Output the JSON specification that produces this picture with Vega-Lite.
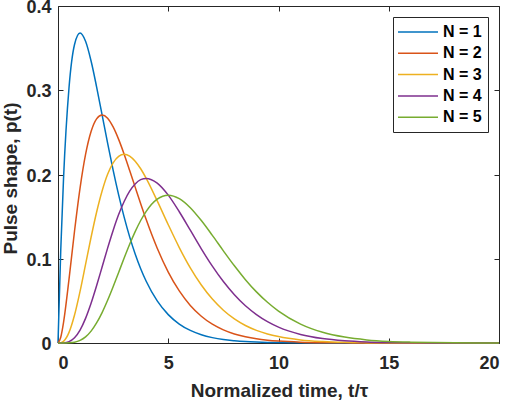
{
  "$schema": "https://vega.github.io/schema/vega-lite/v6.json",
  "width": 441,
  "height": 337,
  "autosize": {"type": "none"},
  "padding": {"left": 58, "top": 6, "right": 11, "bottom": 59},
  "background": "white",
  "config": {
    "font": "Liberation Sans",
    "view": {"stroke": "#262626", "strokeWidth": 1},
    "axis": {
      "domain": false,
      "grid": false,
      "tickSize": -5,
      "tickColor": "#262626",
      "labelFont": "Liberation Sans",
      "labelFontSize": 18,
      "labelFontWeight": "bold",
      "labelColor": "#262626",
      "titleFont": "Liberation Sans",
      "titleFontSize": 19,
      "titleFontWeight": "bold",
      "titleColor": "#262626"
    },
    "legend": {
      "orient": "none",
      "legendX": 335,
      "legendY": 11,
      "title": null,
      "symbolType": "M-2.5,0H2.5",
      "symbolSize": 256,
      "symbolOffset": 10,
      "symbolStrokeWidth": 1.5,
      "labelFont": "Liberation Sans",
      "labelFontSize": 16,
      "labelFontWeight": "bold",
      "labelColor": "#000000",
      "labelOffset": 16,
      "rowPadding": 4.3,
      "padding": 6,
      "strokeColor": "#262626",
      "fillColor": "white",
      "cornerRadius": 0
    }
  },
  "data": {
    "values": [
      {"t": 0, "N": "N = 1", "p": 0}, {"t": 0.125, "N": "N = 1", "p": 0.1103}, {"t": 0.25, "N": "N = 1", "p": 0.1947}, {"t": 0.5, "N": "N = 1", "p": 0.3033},
      {"t": 0.75, "N": "N = 1", "p": 0.3543}, {"t": 1, "N": "N = 1", "p": 0.3679}, {"t": 1.25, "N": "N = 1", "p": 0.3581}, {"t": 1.5, "N": "N = 1", "p": 0.3347},
      {"t": 1.75, "N": "N = 1", "p": 0.3041}, {"t": 2, "N": "N = 1", "p": 0.2707}, {"t": 2.25, "N": "N = 1", "p": 0.2372}, {"t": 2.5, "N": "N = 1", "p": 0.2052},
      {"t": 2.75, "N": "N = 1", "p": 0.1758}, {"t": 3, "N": "N = 1", "p": 0.1494}, {"t": 3.25, "N": "N = 1", "p": 0.126}, {"t": 3.5, "N": "N = 1", "p": 0.1057},
      {"t": 3.75, "N": "N = 1", "p": 0.0882}, {"t": 4, "N": "N = 1", "p": 0.0733}, {"t": 4.5, "N": "N = 1", "p": 0.05}, {"t": 5, "N": "N = 1", "p": 0.0337},
      {"t": 5.5, "N": "N = 1", "p": 0.0225}, {"t": 6, "N": "N = 1", "p": 0.0149}, {"t": 6.5, "N": "N = 1", "p": 0.0098}, {"t": 7, "N": "N = 1", "p": 0.0064},
      {"t": 7.5, "N": "N = 1", "p": 0.0041}, {"t": 8, "N": "N = 1", "p": 0.0027}, {"t": 8.5, "N": "N = 1", "p": 0.0017}, {"t": 9, "N": "N = 1", "p": 0.0011},
      {"t": 9.5, "N": "N = 1", "p": 0.0007}, {"t": 10, "N": "N = 1", "p": 0.0005}, {"t": 11, "N": "N = 1", "p": 0.0002}, {"t": 12, "N": "N = 1", "p": 0.0001},
      {"t": 13, "N": "N = 1", "p": 0}, {"t": 14, "N": "N = 1", "p": 0}, {"t": 15, "N": "N = 1", "p": 0}, {"t": 16, "N": "N = 1", "p": 0},
      {"t": 17, "N": "N = 1", "p": 0}, {"t": 18, "N": "N = 1", "p": 0}, {"t": 19, "N": "N = 1", "p": 0}, {"t": 20, "N": "N = 1", "p": 0},

      {"t": 0, "N": "N = 2", "p": 0}, {"t": 0.125, "N": "N = 2", "p": 0.0069}, {"t": 0.25, "N": "N = 2", "p": 0.0243}, {"t": 0.5, "N": "N = 2", "p": 0.0758},
      {"t": 0.75, "N": "N = 2", "p": 0.1329}, {"t": 1, "N": "N = 2", "p": 0.1839}, {"t": 1.25, "N": "N = 2", "p": 0.2238}, {"t": 1.5, "N": "N = 2", "p": 0.251},
      {"t": 1.75, "N": "N = 2", "p": 0.2661}, {"t": 2, "N": "N = 2", "p": 0.2707}, {"t": 2.25, "N": "N = 2", "p": 0.2669}, {"t": 2.5, "N": "N = 2", "p": 0.2565},
      {"t": 2.75, "N": "N = 2", "p": 0.2417}, {"t": 3, "N": "N = 2", "p": 0.2241}, {"t": 3.25, "N": "N = 2", "p": 0.2048}, {"t": 3.5, "N": "N = 2", "p": 0.185},
      {"t": 3.75, "N": "N = 2", "p": 0.1654}, {"t": 4, "N": "N = 2", "p": 0.1465}, {"t": 4.5, "N": "N = 2", "p": 0.1125}, {"t": 5, "N": "N = 2", "p": 0.0842},
      {"t": 5.5, "N": "N = 2", "p": 0.0618}, {"t": 6, "N": "N = 2", "p": 0.0446}, {"t": 6.5, "N": "N = 2", "p": 0.0318}, {"t": 7, "N": "N = 2", "p": 0.0223},
      {"t": 7.5, "N": "N = 2", "p": 0.0156}, {"t": 8, "N": "N = 2", "p": 0.0107}, {"t": 8.5, "N": "N = 2", "p": 0.0074}, {"t": 9, "N": "N = 2", "p": 0.005},
      {"t": 9.5, "N": "N = 2", "p": 0.0034}, {"t": 10, "N": "N = 2", "p": 0.0023}, {"t": 11, "N": "N = 2", "p": 0.001}, {"t": 12, "N": "N = 2", "p": 0.0004},
      {"t": 13, "N": "N = 2", "p": 0.0002}, {"t": 14, "N": "N = 2", "p": 0.0001}, {"t": 15, "N": "N = 2", "p": 0}, {"t": 16, "N": "N = 2", "p": 0},
      {"t": 17, "N": "N = 2", "p": 0}, {"t": 18, "N": "N = 2", "p": 0}, {"t": 19, "N": "N = 2", "p": 0}, {"t": 20, "N": "N = 2", "p": 0},

      {"t": 0, "N": "N = 3", "p": 0}, {"t": 0.125, "N": "N = 3", "p": 0.0003}, {"t": 0.25, "N": "N = 3", "p": 0.002}, {"t": 0.5, "N": "N = 3", "p": 0.0126},
      {"t": 0.75, "N": "N = 3", "p": 0.0332}, {"t": 1, "N": "N = 3", "p": 0.0613}, {"t": 1.25, "N": "N = 3", "p": 0.0933}, {"t": 1.5, "N": "N = 3", "p": 0.1255},
      {"t": 1.75, "N": "N = 3", "p": 0.1552}, {"t": 2, "N": "N = 3", "p": 0.1804}, {"t": 2.25, "N": "N = 3", "p": 0.2002}, {"t": 2.5, "N": "N = 3", "p": 0.2138},
      {"t": 2.75, "N": "N = 3", "p": 0.2216}, {"t": 3, "N": "N = 3", "p": 0.224}, {"t": 3.25, "N": "N = 3", "p": 0.2219}, {"t": 3.5, "N": "N = 3", "p": 0.2158},
      {"t": 3.75, "N": "N = 3", "p": 0.2068}, {"t": 4, "N": "N = 3", "p": 0.1954}, {"t": 4.5, "N": "N = 3", "p": 0.1687}, {"t": 5, "N": "N = 3", "p": 0.1404},
      {"t": 5.5, "N": "N = 3", "p": 0.1133}, {"t": 6, "N": "N = 3", "p": 0.0892}, {"t": 6.5, "N": "N = 3", "p": 0.0688}, {"t": 7, "N": "N = 3", "p": 0.0521},
      {"t": 7.5, "N": "N = 3", "p": 0.0389}, {"t": 8, "N": "N = 3", "p": 0.0286}, {"t": 8.5, "N": "N = 3", "p": 0.0208}, {"t": 9, "N": "N = 3", "p": 0.015},
      {"t": 9.5, "N": "N = 3", "p": 0.0107}, {"t": 10, "N": "N = 3", "p": 0.0076}, {"t": 11, "N": "N = 3", "p": 0.0037}, {"t": 12, "N": "N = 3", "p": 0.0018},
      {"t": 13, "N": "N = 3", "p": 0.0008}, {"t": 14, "N": "N = 3", "p": 0.0004}, {"t": 15, "N": "N = 3", "p": 0.0002}, {"t": 16, "N": "N = 3", "p": 0.0001},
      {"t": 17, "N": "N = 3", "p": 0}, {"t": 18, "N": "N = 3", "p": 0}, {"t": 19, "N": "N = 3", "p": 0}, {"t": 20, "N": "N = 3", "p": 0},

      {"t": 0, "N": "N = 4", "p": 0}, {"t": 0.125, "N": "N = 4", "p": 0}, {"t": 0.25, "N": "N = 4", "p": 0.0001}, {"t": 0.5, "N": "N = 4", "p": 0.0016},
      {"t": 0.75, "N": "N = 4", "p": 0.0062}, {"t": 1, "N": "N = 4", "p": 0.0153}, {"t": 1.25, "N": "N = 4", "p": 0.0292}, {"t": 1.5, "N": "N = 4", "p": 0.0471},
      {"t": 1.75, "N": "N = 4", "p": 0.0679}, {"t": 2, "N": "N = 4", "p": 0.0902}, {"t": 2.25, "N": "N = 4", "p": 0.1126}, {"t": 2.5, "N": "N = 4", "p": 0.1336},
      {"t": 2.75, "N": "N = 4", "p": 0.1524}, {"t": 3, "N": "N = 4", "p": 0.168}, {"t": 3.25, "N": "N = 4", "p": 0.1803}, {"t": 3.5, "N": "N = 4", "p": 0.1888},
      {"t": 3.75, "N": "N = 4", "p": 0.1939}, {"t": 4, "N": "N = 4", "p": 0.1954}, {"t": 4.5, "N": "N = 4", "p": 0.1898}, {"t": 5, "N": "N = 4", "p": 0.1755},
      {"t": 5.5, "N": "N = 4", "p": 0.1558}, {"t": 6, "N": "N = 4", "p": 0.1339}, {"t": 6.5, "N": "N = 4", "p": 0.1118}, {"t": 7, "N": "N = 4", "p": 0.0912},
      {"t": 7.5, "N": "N = 4", "p": 0.0729}, {"t": 8, "N": "N = 4", "p": 0.0573}, {"t": 8.5, "N": "N = 4", "p": 0.0442}, {"t": 9, "N": "N = 4", "p": 0.0338},
      {"t": 9.5, "N": "N = 4", "p": 0.0254}, {"t": 10, "N": "N = 4", "p": 0.0189}, {"t": 11, "N": "N = 4", "p": 0.0102}, {"t": 12, "N": "N = 4", "p": 0.0053},
      {"t": 13, "N": "N = 4", "p": 0.0027}, {"t": 14, "N": "N = 4", "p": 0.0013}, {"t": 15, "N": "N = 4", "p": 0.0006}, {"t": 16, "N": "N = 4", "p": 0.0003},
      {"t": 17, "N": "N = 4", "p": 0.0001}, {"t": 18, "N": "N = 4", "p": 0.0001}, {"t": 19, "N": "N = 4", "p": 0}, {"t": 20, "N": "N = 4", "p": 0},

      {"t": 0, "N": "N = 5", "p": 0}, {"t": 0.125, "N": "N = 5", "p": 0}, {"t": 0.25, "N": "N = 5", "p": 0}, {"t": 0.5, "N": "N = 5", "p": 0.0002},
      {"t": 0.75, "N": "N = 5", "p": 0.0009}, {"t": 1, "N": "N = 5", "p": 0.0031}, {"t": 1.25, "N": "N = 5", "p": 0.0073}, {"t": 1.5, "N": "N = 5", "p": 0.0141},
      {"t": 1.75, "N": "N = 5", "p": 0.0238}, {"t": 2, "N": "N = 5", "p": 0.0361}, {"t": 2.25, "N": "N = 5", "p": 0.0507}, {"t": 2.5, "N": "N = 5", "p": 0.0668},
      {"t": 2.75, "N": "N = 5", "p": 0.0838}, {"t": 3, "N": "N = 5", "p": 0.1008}, {"t": 3.25, "N": "N = 5", "p": 0.1172}, {"t": 3.5, "N": "N = 5", "p": 0.1322},
      {"t": 3.75, "N": "N = 5", "p": 0.1454}, {"t": 4, "N": "N = 5", "p": 0.1563}, {"t": 4.5, "N": "N = 5", "p": 0.1708}, {"t": 5, "N": "N = 5", "p": 0.1755},
      {"t": 5.5, "N": "N = 5", "p": 0.1714}, {"t": 6, "N": "N = 5", "p": 0.1606}, {"t": 6.5, "N": "N = 5", "p": 0.1453}, {"t": 7, "N": "N = 5", "p": 0.1277},
      {"t": 7.5, "N": "N = 5", "p": 0.1094}, {"t": 8, "N": "N = 5", "p": 0.0916}, {"t": 8.5, "N": "N = 5", "p": 0.0752}, {"t": 9, "N": "N = 5", "p": 0.0607},
      {"t": 9.5, "N": "N = 5", "p": 0.0483}, {"t": 10, "N": "N = 5", "p": 0.0378}, {"t": 11, "N": "N = 5", "p": 0.0224}, {"t": 12, "N": "N = 5", "p": 0.0127},
      {"t": 13, "N": "N = 5", "p": 0.007}, {"t": 14, "N": "N = 5", "p": 0.0037}, {"t": 15, "N": "N = 5", "p": 0.0019}, {"t": 16, "N": "N = 5", "p": 0.001},
      {"t": 17, "N": "N = 5", "p": 0.0005}, {"t": 18, "N": "N = 5", "p": 0.0002}, {"t": 19, "N": "N = 5", "p": 0.0001}, {"t": 20, "N": "N = 5", "p": 0.0001}
    ]
  },
  "layer": [
    {
      "mark": {"type": "line", "interpolate": "monotone", "strokeWidth": 1.5},
      "encoding": {
        "x": {
          "field": "t", "type": "quantitative",
          "scale": {"domain": [0, 20], "nice": false},
          "axis": {"values": [0, 5, 10, 15, 20], "labelPadding": 16, "title": "Normalized time, t/τ", "titleX": 221, "titleY": 47, "titleBaseline": "middle"}
        },
        "y": {
          "field": "p", "type": "quantitative",
          "scale": {"domain": [0, 0.4], "nice": false},
          "axis": {"values": [0, 0.1, 0.2, 0.3, 0.4], "format": "~g", "labelPadding": 12, "labelOffset": 1.5, "title": "Pulse shape, p(t)", "titleX": -48, "titleY": 172, "titleBaseline": "middle", "titleAlign": "center", "titleAngle": -90}
        },
        "color": {
          "field": "N", "type": "nominal",
          "scale": {"domain": ["N = 1", "N = 2", "N = 3", "N = 4", "N = 5"], "range": ["#0072BD", "#D95319", "#EDB120", "#7E2F8E", "#77AC30"]}
        }
      }
    },
    {
      "mark": {"type": "line", "opacity": 0},
      "encoding": {
        "x": {"field": "t", "type": "quantitative", "axis": {"orient": "top", "values": [0, 5, 10, 15, 20], "labels": false, "title": null}},
        "y": {"field": "p", "type": "quantitative", "axis": {"orient": "right", "values": [0, 0.1, 0.2, 0.3, 0.4], "labels": false, "title": null}}
      }
    }
  ],
  "resolve": {"axis": {"x": "independent", "y": "independent"}}
}
